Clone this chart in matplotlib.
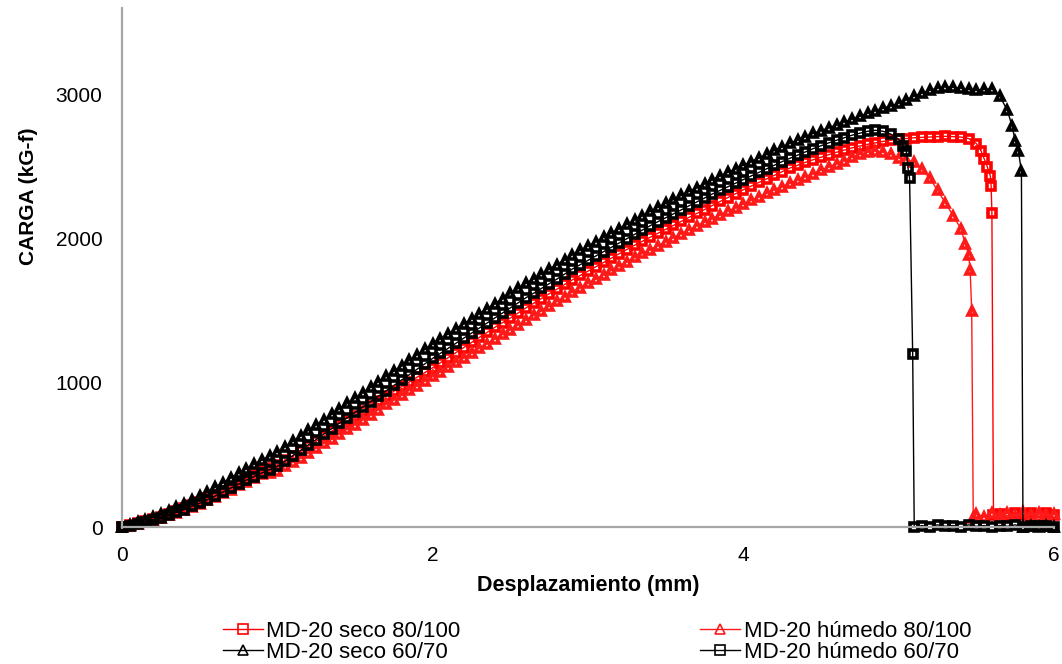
import matplotlib
matplotlib.use("Agg")
import matplotlib.pyplot as plt
import numpy as np

plt.rcParams['font.family'] = ['Liberation Sans', 'DejaVu Sans']

# load (kG-f) read every 0.05 mm from the start, then the failure tails
step = 0.05

seco_6070 = [0, 14, 33, 51, 70, 89, 112, 136, 160, 187,
             215, 244, 275, 307, 340, 372, 405, 436, 465, 493,
             520, 557, 595, 632, 670, 707, 745, 782, 820, 857,
             895, 932, 970, 1007, 1045, 1082, 1120, 1157, 1195, 1232,
             1270, 1305, 1340, 1375, 1410, 1445, 1480, 1515, 1550, 1585,
             1620, 1655, 1690, 1722, 1755, 1788, 1820, 1855, 1890, 1920,
             1950, 1980, 2010, 2040, 2070, 2100, 2130, 2160, 2190, 2218,
             2245, 2272, 2300, 2328, 2355, 2382, 2410, 2435, 2460, 2485,
             2510, 2535, 2560, 2585, 2612, 2637, 2662, 2685, 2708, 2730,
             2750, 2770, 2790, 2810, 2830, 2850, 2870, 2888, 2905, 2922,
             2940, 2965, 2990, 3010, 3030, 3045, 3055, 3050, 3045, 3035,
             3030, 3035, 3040]
seco_6070_tail_x = [5.65, 5.70, 5.73, 5.75, 5.77, 5.79, 5.80, 5.85, 5.90, 5.95, 6.00]
seco_6070_tail_y = [2990, 2890, 2780, 2680, 2610, 2470, 0, 5, 0, 5, 0]

humedo_6070 = [0, 10, 23, 37, 50, 63, 82, 102, 120, 143,
               165, 190, 215, 242, 270, 297, 325, 350, 375, 398,
               420, 457, 495, 532, 570, 607, 645, 682, 720, 757,
               795, 832, 870, 907, 945, 982, 1020, 1057, 1095, 1132,
               1170, 1205, 1240, 1275, 1310, 1345, 1380, 1415, 1450, 1485,
               1520, 1555, 1590, 1622, 1655, 1688, 1720, 1755, 1790, 1820,
               1850, 1880, 1910, 1940, 1970, 2000, 2030, 2060, 2090, 2118,
               2145, 2172, 2200, 2228, 2255, 2282, 2310, 2335, 2360, 2385,
               2410, 2435, 2460, 2485, 2510, 2535, 2558, 2580, 2602, 2625,
               2645, 2665, 2683, 2700, 2718, 2732, 2745, 2752, 2745, 2725,
               2690]
humedo_6070_tail_x = [5.03, 5.05, 5.06, 5.07, 5.09, 5.10, 5.15, 5.20, 5.25, 5.30,
                      5.35, 5.40, 5.45, 5.50, 5.55, 5.60, 5.65, 5.70, 5.75, 5.80,
                      5.85, 5.90, 5.95, 6.00]
humedo_6070_tail_y = [2640, 2605, 2490, 2420, 1200, 0, 10, 0, 15, 5,
                      10, 0, 15, 5, 10, 0, 10, 5, 15, 0,
                      10, 5, 10, 0]

seco_80100 = [0, 12, 25, 40, 55, 72, 90, 110, 130, 152,
              175, 200, 225, 252, 280, 307, 335, 362, 390, 410,
              430, 462, 495, 527, 560, 595, 630, 665, 700, 735,
              770, 805, 840, 875, 910, 942, 975, 1007, 1040, 1072,
              1105, 1140, 1175, 1210, 1245, 1280, 1315, 1350, 1385, 1418,
              1450, 1485, 1520, 1552, 1585, 1618, 1650, 1683, 1715, 1745,
              1775, 1805, 1835, 1865, 1895, 1925, 1955, 1982, 2010, 2038,
              2065, 2092, 2120, 2148, 2175, 2202, 2230, 2258, 2285, 2312,
              2340, 2365, 2390, 2415, 2440, 2465, 2490, 2510, 2530, 2548,
              2565, 2583, 2600, 2615, 2630, 2643, 2655, 2665, 2675, 2683,
              2690, 2695, 2700, 2703, 2705, 2708, 2710, 2708, 2705, 2695]
seco_80100_tail_x = [5.50, 5.53, 5.55, 5.57, 5.59, 5.595, 5.60, 5.61,
                     5.65, 5.70, 5.75, 5.80, 5.85, 5.90, 5.95, 6.00]
seco_80100_tail_y = [2660, 2610, 2555, 2500, 2435, 2365, 2180, 80,
                     90, 75, 100, 80, 95, 70, 100, 85]

humedo_80100 = [0, 10, 22, 35, 50, 65, 82, 100, 120, 140,
                162, 185, 210, 235, 260, 288, 315, 340, 365, 378,
                390, 420, 450, 482, 515, 548, 580, 612, 645, 678,
                710, 745, 780, 815, 850, 882, 915, 948, 980, 1012,
                1045, 1078, 1110, 1142, 1175, 1208, 1240, 1272, 1305, 1338,
                1370, 1402, 1435, 1468, 1500, 1532, 1565, 1598, 1630, 1660,
                1690, 1720, 1750, 1780, 1810, 1840, 1870, 1898, 1925, 1952,
                1980, 2008, 2035, 2062, 2090, 2115, 2140, 2165, 2190, 2215,
                2240, 2265, 2290, 2315, 2340, 2362, 2385, 2408, 2430, 2452,
                2475, 2498, 2520, 2542, 2565, 2585, 2600, 2610, 2600, 2585,
                2560, 2548, 2530, 2480, 2420, 2335, 2250, 2160, 2070]
humedo_80100_tail_x = [5.43, 5.45, 5.46, 5.47, 5.48, 5.50, 5.55, 5.60, 5.65, 5.70,
                       5.75, 5.80, 5.85, 5.90, 5.95, 6.00]
humedo_80100_tail_y = [1960, 1890, 1780, 1500, 60, 90, 70, 100, 80, 95,
                       75, 105, 85, 100, 80, 90]


def series(grid, tail_x, tail_y):
    x = np.round(np.arange(len(grid)) * step, 3)
    return np.concatenate([x, tail_x]), np.concatenate([grid, tail_y])


fig = plt.figure(figsize=(10.62, 6.64), dpi=100)
ax = fig.add_axes([0.1149, 0.2063, 0.8776, 0.7816])

style = dict(lw=1, ms=5.8, mfc='none', mew=2.6, clip_on=False)
h_rs, = ax.plot(*series(seco_80100, seco_80100_tail_x, seco_80100_tail_y),
                color='red', marker='s', label='MD-20 seco 80/100', **style)
h_rt, = ax.plot(*series(humedo_80100, humedo_80100_tail_x, humedo_80100_tail_y),
                color='#ff1a1a', marker='^', label='MD-20 húmedo 80/100', **style)
h_bt, = ax.plot(*series(seco_6070, seco_6070_tail_x, seco_6070_tail_y),
                color='black', marker='^', label='MD-20 seco 60/70', **style)
h_bs, = ax.plot(*series(humedo_6070, humedo_6070_tail_x, humedo_6070_tail_y),
                color='black', marker='s', label='MD-20 húmedo 60/70', **style)

ax.set_xlim(0, 6)
ax.set_ylim(0, 3600)
ax.set_xticks([0, 2, 4, 6])
ax.set_yticks([0, 1000, 2000, 3000])
ax.tick_params(length=0, labelsize=15, pad=14)

for s in ['top', 'right']:
    ax.spines[s].set_visible(False)
for s in ['left', 'bottom']:
    ax.spines[s].set_color('#a6a6a6')
    ax.spines[s].set_linewidth(1.6)

ax.set_xlabel('Desplazamiento (mm)', fontsize=15.5, fontweight='bold', labelpad=7)
ax.set_ylabel('CARGA (kG-f)', fontsize=15, fontweight='bold')
ax.yaxis.set_label_coords(-0.0905, 0.638)

leg = fig.legend(handles=[h_rs, h_bt, h_rt, h_bs], ncol=2, loc='upper center',
                 bbox_to_anchor=(597 / 1062, 1 - 610 / 664), frameon=False,
                 fontsize=16, handlelength=1.8, handletextpad=0.15,
                 columnspacing=10.8, labelspacing=0.0, borderpad=0)
for h in leg.legend_handles:
    h.set_markersize(7.5)
    h.set_markeredgewidth(1.2)

fig.savefig('out.png', dpi=100)
